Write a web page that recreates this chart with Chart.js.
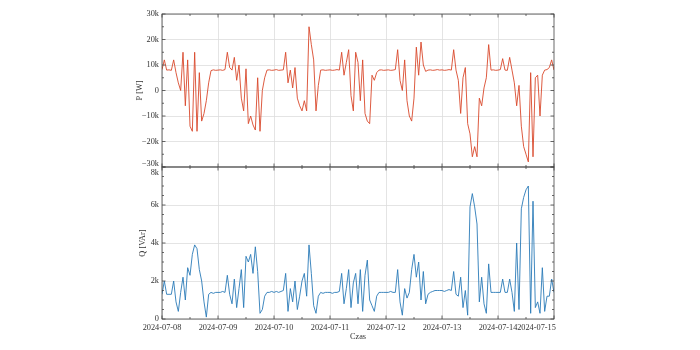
<!DOCTYPE html>
<html lang="pl">
<head>
<meta charset="UTF-8">
<title>P i Q</title>
<script src="https://cdn.jsdelivr.net/npm/chart.js"></script>
<style>
  body { margin: 0; background: #fff; }
  #wrap { position: relative; width: 700px; height: 350px; }
  #wrap canvas { position: absolute; left: 0; top: 0; }
</style>
</head>
<body>
<div id="wrap">
  <canvas id="chartP" width="700" height="350"></canvas>
  <canvas id="chartQ" width="700" height="350"></canvas>
</div>
<script>
// tick labels
const dayLabels = ['2024-07-08', '2024-07-09', '2024-07-10', '2024-07-11',
                   '2024-07-12', '2024-07-13', '2024-07-14', '2024-07-15'];
const pTicks = [-30, -20, -10, 0, 10, 20, 30];   // kW
const qTicks = [0, 2, 4, 6, 8];                   // kVAr

// hourly readings from 2024-07-08 00:00, P in kW
const pValues = [
  8.2, 12, 8, 8.1, 7.9, 12, 7, 3, 0, 15, -6, 12, -14, -16, 15, -16, 7, -12, -9, -4, 3, 7.8, 8.1, 7.9,
  8, 8.1, 7.9, 8.2, 15, 9, 8, 13, 4, 10, -3, -8, 8.5, -13, -10, -13.5, -15.5, 5, -16, 0, 5, 8, 8.1, 7.9,
  8, 8.2, 7.9, 8, 8.1, 15, 3, 8, 1, 9, -3, -6, -8, -4, -8, 25, 18, 12, -8, 2, 8, 8.1, 7.9, 8,
  8.1, 7.9, 8, 8.2, 8, 15, 6, 11, 16, -2, -8, 15, 11, -4, 12, -9, -12, -13, 6, 4, 7, 8, 8.1, 7.9,
  8, 8.1, 7.9, 8, 8.2, 16, 4, 0, 12, -4, -10, -12, -3, 17, 6, 19, 10, 7.5, 8, 8.1, 7.9, 8, 8.2, 8,
  8.1, 7.9, 8, 8.2, 8, 16, 8, 4, -9, 5, 9, -13, -17, -26, -22, -26, -3, -6, 1, 5, 18, 8, 8.1, 7.9,
  8, 8.2, 12.5, 8, 7.9, 13, 8, 3, -6, 2, -14, -22, -25, -28, 7, -26, 5, 6, -10, 6, 8, 8.2, 9, 12, 8
];

// Q in kVAr
const qValues = [
  1.3, 2.0, 1.3, 1.3, 1.3, 2.0, 0.9, 0.4, 1.4, 2.2, 1.0, 2.7, 2.3, 3.4, 3.9, 3.7, 2.6, 2.0, 0.9, 0.1, 1.3, 1.4, 1.35, 1.4,
  1.4, 1.4, 1.45, 1.4, 2.3, 1.3, 0.8, 2.1, 0.6, 1.6, 2.6, 0.6, 3.3, 3.0, 3.4, 2.4, 3.8, 2.5, 0.3, 0.5, 1.2, 1.4, 1.4, 1.45,
  1.4, 1.45, 1.4, 1.45, 1.5, 2.4, 0.4, 1.6, 0.9, 2.0, 0.5, 1.2, 2.0, 2.4, 1.2, 3.9, 2.4, 0.7, 0.3, 1.2, 1.4, 1.35, 1.4, 1.4,
  1.4, 1.35, 1.4, 1.4, 1.45, 2.4, 0.8, 1.6, 2.6, 0.6, 1.9, 2.4, 0.8, 2.6, 0.4, 2.3, 3.1, 1.0, 0.7, 0.4, 1.2, 1.4, 1.4, 1.4,
  1.4, 1.4, 1.45, 1.4, 1.4, 2.6, 0.9, 0.2, 1.6, 1.1, 1.4, 2.6, 3.4, 2.2, 3.0, 1.0, 2.5, 0.8, 1.3, 1.4, 1.45, 1.5, 1.5, 1.5,
  1.5, 1.45, 1.5, 1.55, 1.5, 2.5, 1.3, 1.2, 2.2, 0.6, 1.5, 0.2, 5.9, 6.6, 5.9, 5.0, 0.9, 2.2, 0.8, 0.3, 2.9, 1.4, 1.4, 1.4,
  1.4, 1.4, 2.1, 1.4, 1.4, 2.1, 1.4, 0.4, 4.0, 0.5, 5.8, 6.4, 6.8, 7.0, 0.3, 6.2, 0.6, 0.9, 0.3, 2.7, 0.4, 1.2, 1.2, 2.1, 1.4
];

const FONT = "'Liberation Serif', 'Times New Roman', serif";
const GRID = '#dddddd';
Chart.defaults.font.family = FONT;
Chart.defaults.font.size = 8.3;
Chart.defaults.color = '#333';

function kLabel(v) {
  if (v === 0) return '0';
  return (v < 0 ? '\u2212' : '') + Math.abs(v) + 'k';
}

// inward major/minor ticks on all four sides + frame
const frameTicks = {
  id: 'frameTicks',
  afterDraw(chart, args, o) {
    const {ctx, chartArea: a} = chart;
    const xs = chart.scales.x, ys = chart.scales.y;
    ctx.save();
    ctx.strokeStyle = '#444';
    ctx.lineWidth = 0.8;
    ctx.beginPath();
    const nx = Math.round((xs.max - xs.min) / o.xMinor);
    for (let k = 0; k <= nx; k++) {
      const h = xs.min + k * o.xMinor;
      const len = h % o.xMajor === 0 ? 3.5 : 2;
      const px = xs.getPixelForValue(h);
      ctx.moveTo(px, a.top); ctx.lineTo(px, a.top + len);
      ctx.moveTo(px, a.bottom); ctx.lineTo(px, a.bottom - len);
    }
    const ny = Math.round((ys.max - ys.min) / o.yMinor);
    for (let k = 0; k <= ny; k++) {
      const v = ys.min + k * o.yMinor;
      const len = Math.abs(v % o.yMajor) < 1e-9 ? 3.5 : 2;
      const py = ys.getPixelForValue(v);
      ctx.moveTo(a.left, py); ctx.lineTo(a.left + len, py);
      ctx.moveTo(a.right, py); ctx.lineTo(a.right - len, py);
    }
    ctx.stroke();
    ctx.strokeRect(a.left, a.top, a.right - a.left, a.bottom - a.top);
    ctx.restore();
  }
};

// day ticks; the last label sits left of the right edge as in the original
function dayTicks(scale) {
  scale.ticks = dayLabels.map((d, i) => ({value: i < 7 ? i * 24 : 168 - 7.5}));
}
const xGrid = {
  color: c => (c.tick && c.index === 7) ? 'rgba(0,0,0,0)' : GRID,
  lineWidth: 0.8,
  drawTicks: false
};

function series(vals) {
  return vals.map((v, i) => ({x: i, y: v}));
}

new Chart(document.getElementById('chartP'), {
  type: 'line',
  data: {
    datasets: [{
      data: series(pValues),
      borderColor: '#d9482b',
      borderWidth: 0.9,
      pointRadius: 0,
      tension: 0
    }]
  },
  options: {
    responsive: false,
    animation: false,
    layout: {padding: {left: 135, right: 146, top: 14, bottom: 183}},
    plugins: {
      legend: {display: false},
      tooltip: {enabled: false},
      frameTicks: {xMinor: 12, xMajor: 24, yMinor: 5, yMajor: 10}
    },
    scales: {
      x: {
        type: 'linear', min: 0, max: 168,
        afterBuildTicks: dayTicks,
        ticks: {display: false},
        grid: xGrid,
        border: {display: false},
        afterFit: s => { s.height = 0; }
      },
      y: {
        min: -30, max: 30,
        afterBuildTicks: s => { s.ticks = pTicks.map(v => ({value: v === -30 ? -28.8 : v})); },
        ticks: {callback: (v, i) => kLabel(pTicks[i]), padding: 3},
        grid: {
          color: c => (c.tick && c.index === 0) ? 'rgba(0,0,0,0)' : GRID,
          lineWidth: 0.8, drawTicks: false
        },
        border: {display: false},
        title: {display: true, text: 'P [W]', padding: 0},
        afterFit: s => { s.width = 27; }
      }
    }
  },
  plugins: [frameTicks]
});

new Chart(document.getElementById('chartQ'), {
  type: 'line',
  data: {
    datasets: [{
      data: series(qValues),
      borderColor: '#2a7ab8',
      borderWidth: 0.9,
      pointRadius: 0,
      tension: 0
    }]
  },
  options: {
    responsive: false,
    animation: false,
    layout: {padding: {left: 138, right: 146, top: 167, bottom: 0}},
    plugins: {
      legend: {display: false},
      tooltip: {enabled: false},
      frameTicks: {xMinor: 12, xMajor: 24, yMinor: 0.5, yMajor: 2}
    },
    scales: {
      x: {
        type: 'linear', min: 0, max: 168,
        afterBuildTicks: dayTicks,
        ticks: {callback: (v, i) => dayLabels[i], autoSkip: false, maxRotation: 0, minRotation: 0, padding: 4},
        grid: xGrid,
        border: {display: false},
        title: {display: true, text: 'Czas', padding: {top: 0, bottom: 8}},
        afterFit: s => { s.height = 31; }
      },
      y: {
        min: 0, max: 8,
        afterBuildTicks: s => { s.ticks = qTicks.map(v => ({value: v === 8 ? 7.71 : v})); },
        ticks: {callback: (v, i) => kLabel(qTicks[i]), padding: 3},
        grid: {
          color: c => (c.tick && c.index === 4) ? 'rgba(0,0,0,0)' : GRID,
          lineWidth: 0.8, drawTicks: false
        },
        border: {display: false},
        title: {display: true, text: 'Q [VAr]', padding: 0},
        afterFit: s => { s.width = 24; }
      }
    }
  },
  plugins: [frameTicks]
});
</script>
</body>
</html>
